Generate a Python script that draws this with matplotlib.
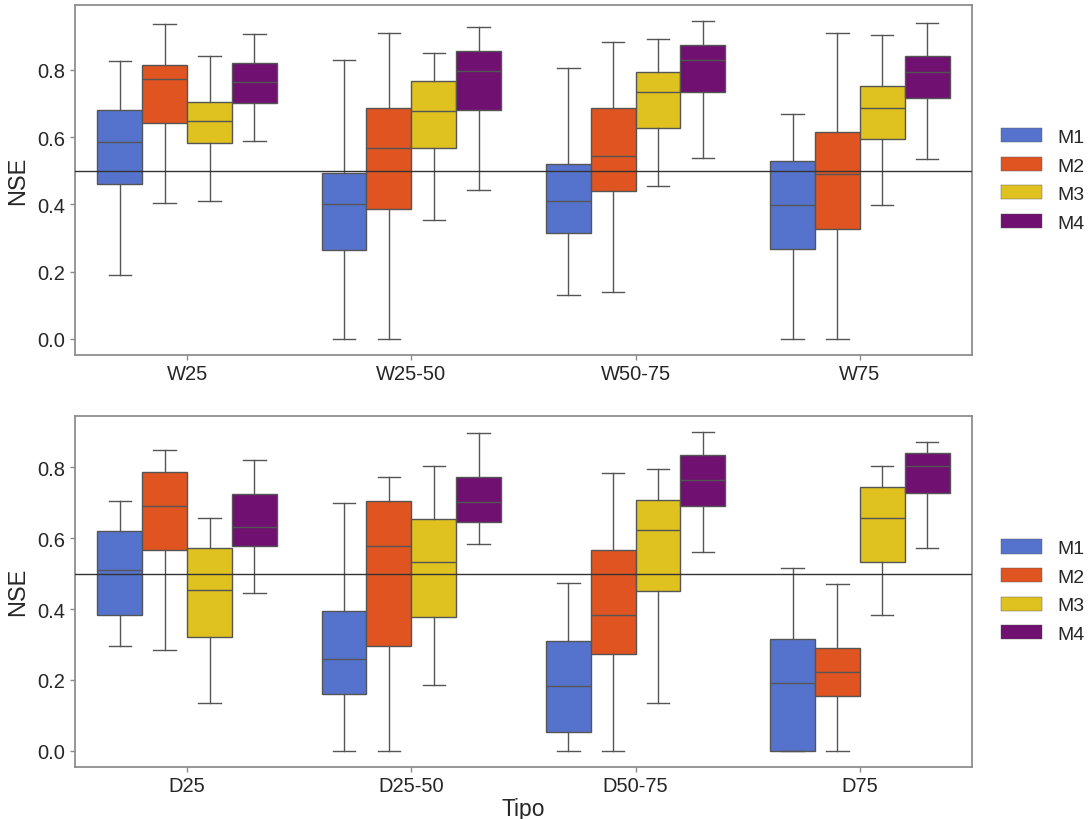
import colorsys
import matplotlib
matplotlib.use("Agg")
import matplotlib.pyplot as plt
import matplotlib.colors as mcolors
from matplotlib.patches import Patch

plt.rcParams['font.family'] = ['Liberation Sans', 'DejaVu Sans']

# Box summaries per category: (whisker low, Q1, median, Q3, whisker high)
top_categories = ["W25", "W25-50", "W50-75", "W75"]
bottom_categories = ["D25", "D25-50", "D50-75", "D75"]
models = ["M1", "M2", "M3", "M4"]

top_M1 = [(0.189, 0.460, 0.585, 0.682, 0.828),
          (0.000, 0.265, 0.400, 0.494, 0.831),
          (0.129, 0.316, 0.409, 0.519, 0.805),
          (0.000, 0.267, 0.398, 0.529, 0.670)]
top_M2 = [(0.404, 0.643, 0.773, 0.815, 0.937),
          (0.000, 0.385, 0.569, 0.687, 0.911),
          (0.138, 0.440, 0.544, 0.686, 0.882),
          (0.000, 0.326, 0.489, 0.615, 0.910)]
top_M3 = [(0.411, 0.582, 0.647, 0.704, 0.841),
          (0.354, 0.567, 0.677, 0.768, 0.851),
          (0.454, 0.627, 0.734, 0.795, 0.892),
          (0.398, 0.596, 0.688, 0.751, 0.904)]
top_M4 = [(0.588, 0.703, 0.763, 0.820, 0.907),
          (0.442, 0.680, 0.797, 0.855, 0.927),
          (0.539, 0.734, 0.829, 0.875, 0.946),
          (0.534, 0.716, 0.795, 0.841, 0.939)]

bottom_M1 = [(0.295, 0.382, 0.509, 0.620, 0.704),
             (0.000, 0.159, 0.259, 0.394, 0.700),
             (0.000, 0.052, 0.184, 0.311, 0.475),
             (0.000, 0.000, 0.190, 0.316, 0.515)]
bottom_M2 = [(0.285, 0.566, 0.691, 0.787, 0.850),
             (0.000, 0.295, 0.579, 0.706, 0.774),
             (0.000, 0.272, 0.382, 0.567, 0.783),
             (0.000, 0.154, 0.221, 0.289, 0.471)]
bottom_M3 = [(0.136, 0.322, 0.455, 0.572, 0.658),
             (0.187, 0.379, 0.533, 0.654, 0.804),
             (0.135, 0.451, 0.623, 0.708, 0.795),
             (0.382, 0.533, 0.656, 0.746, 0.804)]
bottom_M4 = [(0.446, 0.579, 0.631, 0.724, 0.822),
             (0.584, 0.645, 0.702, 0.774, 0.897),
             (0.562, 0.690, 0.764, 0.834, 0.901),
             (0.572, 0.729, 0.805, 0.841, 0.873)]

base_colors = ["royalblue", "orangered", "gold", "purple"]
threshold = 0.5


def desaturate(color, prop=0.75):
    r, g, b = mcolors.to_rgb(color)
    h, l, s = colorsys.rgb_to_hls(r, g, b)
    return colorsys.hls_to_rgb(h, l, s * prop)


colors = [desaturate(c) for c in base_colors]
line_gray = "#555555"
spine_gray = "#8a8a8a"
text_color = "#262626"


def draw_panel(ax, categories, series):
    n = len(series)
    width = 0.8 / n
    for j, (summ, color) in enumerate(zip(series, colors)):
        offset = -0.4 + width * (j + 0.5)
        stats = [dict(whislo=s[0], q1=s[1], med=s[2], q3=s[3], whishi=s[4], fliers=[])
                 for s in summ]
        positions = [i + offset for i in range(len(categories))]
        ax.bxp(stats, positions=positions, widths=width, patch_artist=True,
               showfliers=False, manage_ticks=False,
               boxprops=dict(facecolor=color, edgecolor=line_gray, linewidth=1.0),
               medianprops=dict(color=line_gray, linewidth=1.0),
               whiskerprops=dict(color=line_gray, linewidth=1.0),
               capprops=dict(color=line_gray, linewidth=1.0))
    ax.axhline(threshold, color="#333333", linewidth=1.0, zorder=5)
    ax.set_xlim(-0.5, len(categories) - 0.5)
    ax.set_xticks(range(len(categories)))
    ax.set_xticklabels(categories)
    ax.set_yticks([0.0, 0.2, 0.4, 0.6, 0.8])
    ax.set_ylabel("NSE", fontsize=17, color=text_color, labelpad=6)
    ax.tick_params(axis="both", labelsize=14.5, colors=spine_gray, labelcolor=text_color,
                   length=3.5, width=1.0)
    for sp in ax.spines.values():
        sp.set_color(spine_gray)
        sp.set_linewidth(1.25)
    handles = [Patch(facecolor=c, edgecolor=line_gray, linewidth=0.3, label=m)
               for c, m in zip(colors, models)]
    ax.legend(handles=handles, loc="center left", bbox_to_anchor=(1.013, 0.5),
              frameon=False, fontsize=14, labelcolor=text_color,
              handlelength=2.1, handleheight=0.75, handletextpad=0.8,
              labelspacing=0.55)


fig = plt.figure(figsize=(10.91, 8.2), dpi=100)
ax_top = fig.add_axes([0.0687, 0.5662, 0.8222, 0.4265])
ax_bot = fig.add_axes([0.0687, 0.0638, 0.8222, 0.4280])

draw_panel(ax_top, top_categories, [top_M1, top_M2, top_M3, top_M4])
draw_panel(ax_bot, bottom_categories, [bottom_M1, bottom_M2, bottom_M3, bottom_M4])
ax_bot.set_xlabel("Tipo", fontsize=16.5, color=text_color, labelpad=1)

fig.savefig("out.png", dpi=100)
